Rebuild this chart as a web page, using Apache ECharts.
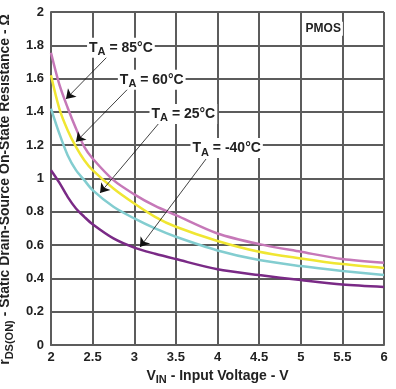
<!DOCTYPE html>
<html>
<head>
<meta charset="utf-8">
<script src="https://cdn.jsdelivr.net/npm/echarts@6/dist/echarts.min.js"></script>
<style>html,body{margin:0;padding:0;background:#fff}#c{width:396px;height:389px}</style>
</head>
<body>
<div id="c"></div>
<script>
// Data
var xTicks = ['2','2.5','3','3.5','4','4.5','5','5.5','6'];
var yTicks = ['0','0.2','0.4','0.6','0.8','1','1.2','1.4','1.6','1.8','2'];

var vin  = [2.0,   2.1,   2.2,   2.3,  2.4,  2.5,   2.75, 3.0,   3.25,  3.5,   4.0,   4.5,   5.0,  5.5,   6.0];
var r85  = [1.755, 1.565, 1.425, 1.30, 1.19, 1.12,  0.99, 0.905, 0.835, 0.78,  0.67,  0.606, 0.56, 0.516, 0.494];
var r60  = [1.62,  1.42,  1.29,  1.19, 1.11, 1.05,  0.94, 0.85,  0.77,  0.71,  0.625, 0.56,  0.52, 0.486, 0.463];
var r25  = [1.42,  1.27,  1.14,  1.05, 0.99, 0.93,  0.83, 0.76,  0.70,  0.65,  0.568, 0.51,  0.474, 0.445, 0.42];
var rM40 = [1.05,  0.975, 0.89,  0.82, 0.77, 0.725, 0.64, 0.585, 0.548, 0.516, 0.455, 0.42,  0.39, 0.363, 0.349];

var seriesNames = ['85°C', '60°C', '25°C', '-40°C'];

function pairs(xs, ys){ return xs.map(function(x,i){ return [x, ys[i]]; }); }

var FONT = 'Liberation Sans';
var rich = {
  t: {fontFamily: FONT, fontWeight: 'bold', fontSize: 14, color: '#222'},
  s: {fontFamily: FONT, fontWeight: 'bold', fontSize: 11, color: '#222', padding: [9, 0, 0, 0]}
};
var nameRich = {
  t: {fontFamily: FONT, fontWeight: 'bold', fontSize: 14, color: '#222'},
  s: {fontFamily: FONT, fontWeight: 'bold', fontSize: 11, color: '#222', padding: [8, 0, 0, 0]}
};

function ann(name, color, data, labelAt, from, to){
  return {
    type: 'line', name: name, data: data, smooth: 0.3, showSymbol: false, symbol: 'none',
    lineStyle: {color: color, width: 2.5}, itemStyle: {color: color},
    emphasis: {disabled: true}, silent: true, z: 3,
    markLine: {
      silent: true, symbol: ['none', 'arrow'], symbolSize: 9,
      lineStyle: {color: '#111', width: 0.8, type: 'solid'},
      itemStyle: {color: '#111'},
      label: {show: false}, emphasis: {disabled: true}, z: 5,
      data: [[{coord: from}, {coord: to}]]
    },
    markPoint: {
      silent: true, symbol: 'rect', symbolSize: 0.1, z: 6,
      itemStyle: {color: 'rgba(0,0,0,0)'},
      label: {
        show: true, position: 'inside',
        formatter: '{t|T}{s|A}{t| = ' + name + '}',
        backgroundColor: '#fff', padding: [0, 2, 0, 2], rich: rich
      },
      data: [{coord: labelAt}]
    }
  };
}

var chart = echarts.init(document.getElementById('c'), null, {renderer: 'canvas'});
var gridColor = '#5c5c5c';
chart.setOption({
  animation: false,
  backgroundColor: '#fff',
  grid: {left: 51, right: 12, top: 12, bottom: 44, containLabel: false, outerBoundsMode: 'none'},
  xAxis: {
    type: 'value', min: 2, max: 6, interval: 0.5,
    name: '{t|V}{s|IN}{t| - Input Voltage - V}',
    nameLocation: 'middle', nameGap: 11,
    nameTextStyle: {rich: nameRich},
    axisLine: {show: true, lineStyle: {color: gridColor, width: 2}},
    axisTick: {show: false},
    axisLabel: {
      margin: 6, color: '#222', fontFamily: FONT, fontWeight: 'bold', fontSize: 13,
      formatter: function(v){ return xTicks[Math.round((v - 2) / 0.5)]; }
    },
    splitLine: {show: true, lineStyle: {color: gridColor, width: 2}}
  },
  yAxis: {
    type: 'value', min: 0, max: 2, interval: 0.2,
    name: '{t|r}{s|DS(ON)}{t| - Static Drain-Source On-State Resistance - Ω}',
    nameLocation: 'middle', nameGap: 30,
    nameTextStyle: {padding: [0, 22, 0, 0], rich: nameRich},
    axisLine: {show: true, lineStyle: {color: gridColor, width: 2}},
    axisTick: {show: false},
    axisLabel: {
      margin: 7, color: '#222', fontFamily: FONT, fontWeight: 'bold', fontSize: 13,
      formatter: function(v){ return yTicks[Math.round(v / 0.2)]; }
    },
    splitLine: {show: true, lineStyle: {color: gridColor, width: 2}}
  },
  series: [
    ann(seriesNames[3], '#7A2A86', pairs(vin, rM40), [4.11, 1.183], [3.862, 1.117], [3.069, 0.588]),
    ann(seriesNames[2], '#83CDD0', pairs(vin, r25), [3.59, 1.388], [3.31, 1.34], [2.589, 0.913]),
    ann(seriesNames[1], '#F0E632', pairs(vin, r60), [3.21, 1.593], [2.937, 1.545], [2.30, 1.22]),
    ann(seriesNames[0], '#C678B8', pairs(vin, r85), [2.84, 1.785], [2.673, 1.730], [2.18, 1.478]),
    {
      type: 'scatter', name: 'PMOS', data: [], silent: true,
      markPoint: {
        silent: true, symbol: 'rect', symbolSize: 0.1, itemStyle: {color: 'rgba(0,0,0,0)'}, z: 6,
        label: {show: true, position: 'inside', formatter: 'PMOS', backgroundColor: '#fff',
          padding: [1, 2, 1, 2], fontFamily: FONT, fontWeight: 'bold', fontSize: 12, color: '#222'},
        data: [{coord: [5.27, 1.9]}]
      }
    }
  ]
});
</script>
</body>
</html>
